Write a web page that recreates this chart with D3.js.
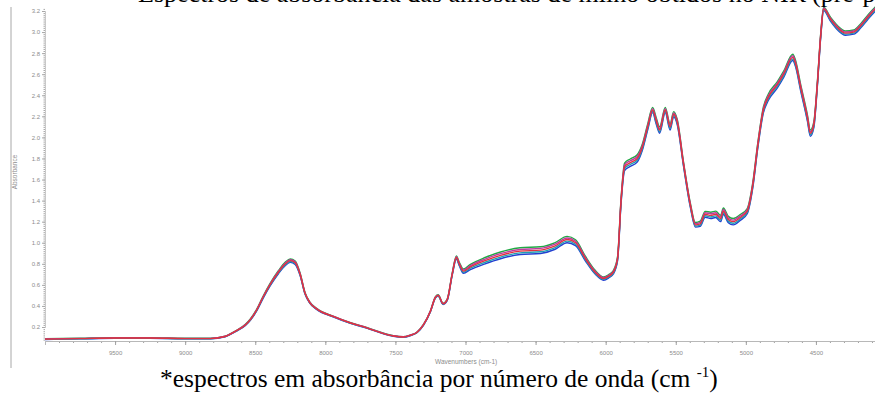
<!DOCTYPE html>
<html>
<head>
<meta charset="utf-8">
<script src="https://cdn.jsdelivr.net/npm/d3@7"></script>
<style>
  html, body { margin: 0; padding: 0; background: #fff; }
  svg { display: block; }
</style>
</head>
<body>
<svg id="chart" width="875" height="399"></svg>
<script>
// NIR absorbance spectra, wavenumber grid (cm-1), descending
const wavenumbers = [10000, 9750, 9500, 9250, 9000, 8820, 8715, 8640, 8570, 8535,
  8490, 8445, 8395, 8335, 8285, 8250, 8215, 8180, 8145, 8110,
  8060, 7945, 7825, 7700, 7590, 7515, 7445, 7395, 7345, 7300,
  7250, 7215, 7195, 7160, 7130, 7095, 7065, 7045, 7015, 6965,
  6860, 6750, 6610, 6465, 6360, 6275, 6215, 6145, 6075, 6015,
  5980, 5945, 5915, 5890, 5865, 5825, 5775, 5740, 5700, 5665,
  5640, 5615, 5575, 5540, 5515, 5490, 5445, 5395, 5360, 5325,
  5290, 5250, 5215, 5180, 5160, 5125, 5090, 5040, 4990, 4950,
  4915, 4875, 4840, 4775, 4730, 4665, 4645, 4610, 4560, 4540,
  4515, 4490, 4465, 4445, 4395, 4345, 4290, 4230, 4180, 4130,
  4075, 4000];

const sampleGreen = [.088, .093, .098, .098, .093, .093, .113, .164, .225, .276,
  .368, .490, .612, .734, .816, .846, .826, .712, .528, .436,
  .375, .304, .244, .193, .143, .118, .108, .123, .153, .224,
  .355, .486, .506, .426, .468, .710, .874, .816, .750, .795,
  .860, .912, .952, .962, 1.002, 1.060, 1.028, .872, .738, .676,
  .696, .736, .870, 1.425, 1.755, 1.795, 1.835, 1.930, 2.128, 2.285,
  2.190, 2.100, 2.285, 2.130, 2.245, 2.175, 1.770, 1.370, 1.192, 1.205,
  1.298, 1.290, 1.300, 1.260, 1.330, 1.250, 1.230, 1.268, 1.325, 1.575,
  1.945, 2.288, 2.410, 2.530, 2.630, 2.790, 2.730, 2.510, 2.210, 2.070,
  2.148, 2.522, 3.000, 3.235, 3.138, 3.060, 3.010, 3.020, 3.080, 3.160,
  3.240, 3.320];

const sampleMagenta = [.087, .092, .097, .097, .092, .092, .112, .162, .223, .273,
  .364, .485, .606, .727, .808, .838, .818, .706, .524, .433,
  .373, .302, .242, .192, .142, .117, .107, .122, .152, .222,
  .353, .483, .503, .423, .464, .705, .867, .808, .740, .783,
  .845, .896, .936, .946, .986, 1.045, 1.014, .861, .729, .668,
  .688, .728, .860, 1.413, 1.738, 1.778, 1.818, 1.915, 2.114, 2.273,
  2.175, 2.085, 2.273, 2.115, 2.233, 2.163, 1.760, 1.360, 1.181, 1.193,
  1.284, 1.275, 1.285, 1.245, 1.315, 1.235, 1.215, 1.254, 1.313, 1.563,
  1.933, 2.274, 2.395, 2.515, 2.615, 2.775, 2.715, 2.495, 2.195, 2.055,
  2.134, 2.511, 2.990, 3.228, 3.129, 3.050, 3.000, 3.010, 3.070, 3.150,
  3.230, 3.310];

const sampleRed = [.085, .090, .095, .095, .090, .090, .110, .160, .220, .270,
  .360, .480, .600, .720, .800, .830, .810, .700, .520, .430,
  .370, .300, .240, .190, .140, .115, .105, .120, .150, .220,
  .350, .480, .500, .420, .460, .700, .860, .800, .730, .770,
  .830, .880, .920, .930, .970, 1.030, 1.000, .850, .720, .660,
  .680, .720, .850, 1.400, 1.720, 1.760, 1.800, 1.900, 2.100, 2.260,
  2.160, 2.070, 2.260, 2.100, 2.220, 2.150, 1.750, 1.350, 1.170, 1.180,
  1.270, 1.260, 1.270, 1.230, 1.300, 1.220, 1.200, 1.240, 1.300, 1.550,
  1.920, 2.260, 2.380, 2.500, 2.600, 2.760, 2.700, 2.480, 2.180, 2.040,
  2.120, 2.500, 2.980, 3.220, 3.120, 3.040, 2.990, 3.000, 3.060, 3.140,
  3.220, 3.300];

const sampleTeal = [.084, .089, .094, .094, .089, .089, .109, .158, .218, .267,
  .356, .475, .594, .713, .792, .822, .802, .694, .516, .427,
  .368, .298, .238, .189, .139, .114, .104, .119, .149, .218,
  .348, .477, .497, .417, .456, .695, .853, .792, .720, .758,
  .815, .864, .904, .914, .954, 1.015, .986, .839, .711, .652,
  .672, .712, .840, 1.388, 1.703, 1.743, 1.783, 1.885, 2.086, 2.248,
  2.145, 2.055, 2.248, 2.085, 2.208, 2.138, 1.740, 1.340, 1.159, 1.168,
  1.256, 1.245, 1.255, 1.215, 1.285, 1.205, 1.185, 1.226, 1.288, 1.538,
  1.908, 2.246, 2.365, 2.485, 2.585, 2.745, 2.685, 2.465, 2.165, 2.025,
  2.106, 2.489, 2.970, 3.213, 3.111, 3.030, 2.980, 2.990, 3.050, 3.130,
  3.210, 3.290];

const sampleBlue = [.082, .087, .092, .092, .087, .087, .107, .156, .215, .264,
  .352, .470, .588, .706, .784, .814, .794, .688, .512, .424,
  .365, .296, .236, .187, .137, .112, .102, .117, .147, .216,
  .345, .474, .494, .414, .452, .690, .846, .784, .710, .745,
  .800, .848, .888, .898, .938, 1.000, .972, .828, .702, .644,
  .664, .704, .830, 1.375, 1.685, 1.725, 1.765, 1.870, 2.072, 2.235,
  2.130, 2.040, 2.235, 2.070, 2.195, 2.125, 1.730, 1.330, 1.148, 1.155,
  1.242, 1.230, 1.240, 1.200, 1.270, 1.190, 1.170, 1.212, 1.275, 1.525,
  1.895, 2.232, 2.350, 2.470, 2.570, 2.730, 2.670, 2.450, 2.150, 2.010,
  2.092, 2.478, 2.960, 3.205, 3.102, 3.020, 2.970, 2.980, 3.040, 3.120,
  3.200, 3.280];

const seriesNames = ["Amostra 5", "Amostra 4", "Amostra 1", "Amostra 2", "Amostra 3"];
const seriesValues = [sampleBlue, sampleTeal, sampleGreen, sampleMagenta, sampleRed];
const seriesColors = ["#2340d0", "#1f9fb3", "#21a845", "#bf3aa0", "#e2313f"];

const xTicks = [9500, 9000, 8500, 8000, 7500, 7000, 6500, 6000, 5500, 5000, 4500];
const yTicks = [0.2, 0.4, 0.6, 0.8, 1.0, 1.2, 1.4, 1.6, 1.8, 2.0, 2.2, 2.4, 2.6, 2.8, 3.0, 3.2];

const titleText = "Espectros de absorbância das amostras de milho obtidos no NIR";
const titleTail = "(pré-processados)";
const captionText = "*espectros em absorbância por número de onda (cm ";
const captionSup = "-1";

const svg = d3.select("#chart");
const W = 875, H = 399;

svg.append("rect").attr("width", W).attr("height", H).attr("fill", "#fff");

const x = d3.scaleLinear().domain([10000, 4000]).range([45, 886]);
const y = d3.scaleLinear().domain([0.2, 3.2]).range([327, 11]);
const axisY = 341;

// outer frame edge on the left
svg.append("line")
  .attr("x1", 11).attr("x2", 11).attr("y1", 7).attr("y2", 368)
  .attr("stroke", "#a8a8a8").attr("stroke-width", 1);

// minor ticks
const xMinor = d3.range(9900, 4000, -100);
const yMinor = d3.range(0.08, 3.24, 0.02);

const gx = svg.append("g").attr("transform", `translate(0,${axisY})`);
gx.call(d3.axisBottom(x).tickValues(xMinor).tickSize(2).tickFormat(""));
gx.append("g").call(d3.axisBottom(x).tickValues(xTicks).tickSize(4).tickPadding(6)
  .tickFormat(d3.format("d")));
gx.selectAll("path.domain").attr("stroke", "#b8b8b8");
gx.selectAll(".tick line").attr("stroke", "#a0a0a0");
gx.selectAll("text").attr("fill", "#8c8c8c").attr("font-size", "6px")
  .attr("font-family", "Liberation Sans, Arial, sans-serif");

const gy = svg.append("g").attr("transform", "translate(45,0)");
gy.call(d3.axisLeft(y).tickValues(yMinor).tickSize(1.5).tickFormat(""));
gy.append("g").call(d3.axisLeft(y).tickValues(yTicks).tickSize(3).tickPadding(2)
  .tickFormat(d3.format(".1f")));
gy.selectAll("path.domain").attr("stroke", "#c8c8c8");
gy.selectAll(".tick line").attr("stroke", "#a8a8a8");
gy.selectAll("text").attr("fill", "#8c8c8c").attr("font-size", "6px")
  .attr("font-family", "Liberation Sans, Arial, sans-serif");

// axis titles
svg.append("text")
  .attr("x", 435).attr("y", 364)
  .attr("fill", "#8c8c8c").attr("font-size", "6.5px")
  .attr("font-family", "Liberation Sans, Arial, sans-serif")
  .text("Wavenumbers (cm-1)");

svg.append("text")
  .attr("transform", "translate(17,172) rotate(-90)")
  .attr("text-anchor", "middle")
  .attr("fill", "#8c8c8c").attr("font-size", "6.5px")
  .attr("font-family", "Liberation Sans, Arial, sans-serif")
  .text("Absorbance");

// spectra
const line = d3.line()
  .x((d, i) => x(wavenumbers[i]))
  .y(d => y(d))
  .curve(d3.curveMonotoneX);

svg.append("g").selectAll("path")
  .data(seriesValues)
  .join("path")
  .attr("d", d => line(d))
  .attr("fill", "none")
  .attr("stroke", (d, i) => seriesColors[i])
  .attr("stroke-width", 1.4)
  .attr("stroke-linejoin", "round");

// figure title (top, running off the page) and caption
svg.append("text")
  .attr("x", 806).attr("y", 2)
  .attr("text-anchor", "end")
  .attr("font-family", "Liberation Serif, Times New Roman, serif")
  .attr("font-size", "26px").attr("fill", "#000")
  .text(titleText);
svg.append("text")
  .attr("x", 812).attr("y", 2)
  .attr("font-family", "Liberation Serif, Times New Roman, serif")
  .attr("font-size", "26px").attr("fill", "#000")
  .text(titleTail);

const cap = svg.append("text")
  .attr("x", 160).attr("y", 387)
  .attr("font-family", "Liberation Serif, Times New Roman, serif")
  .attr("font-size", "25.5px").attr("fill", "#000");
cap.append("tspan").text(captionText);
cap.append("tspan").attr("font-size", "15px").attr("dy", -10).text(captionSup);
cap.append("tspan").attr("dy", 10).text(")");
</script>
</body>
</html>
